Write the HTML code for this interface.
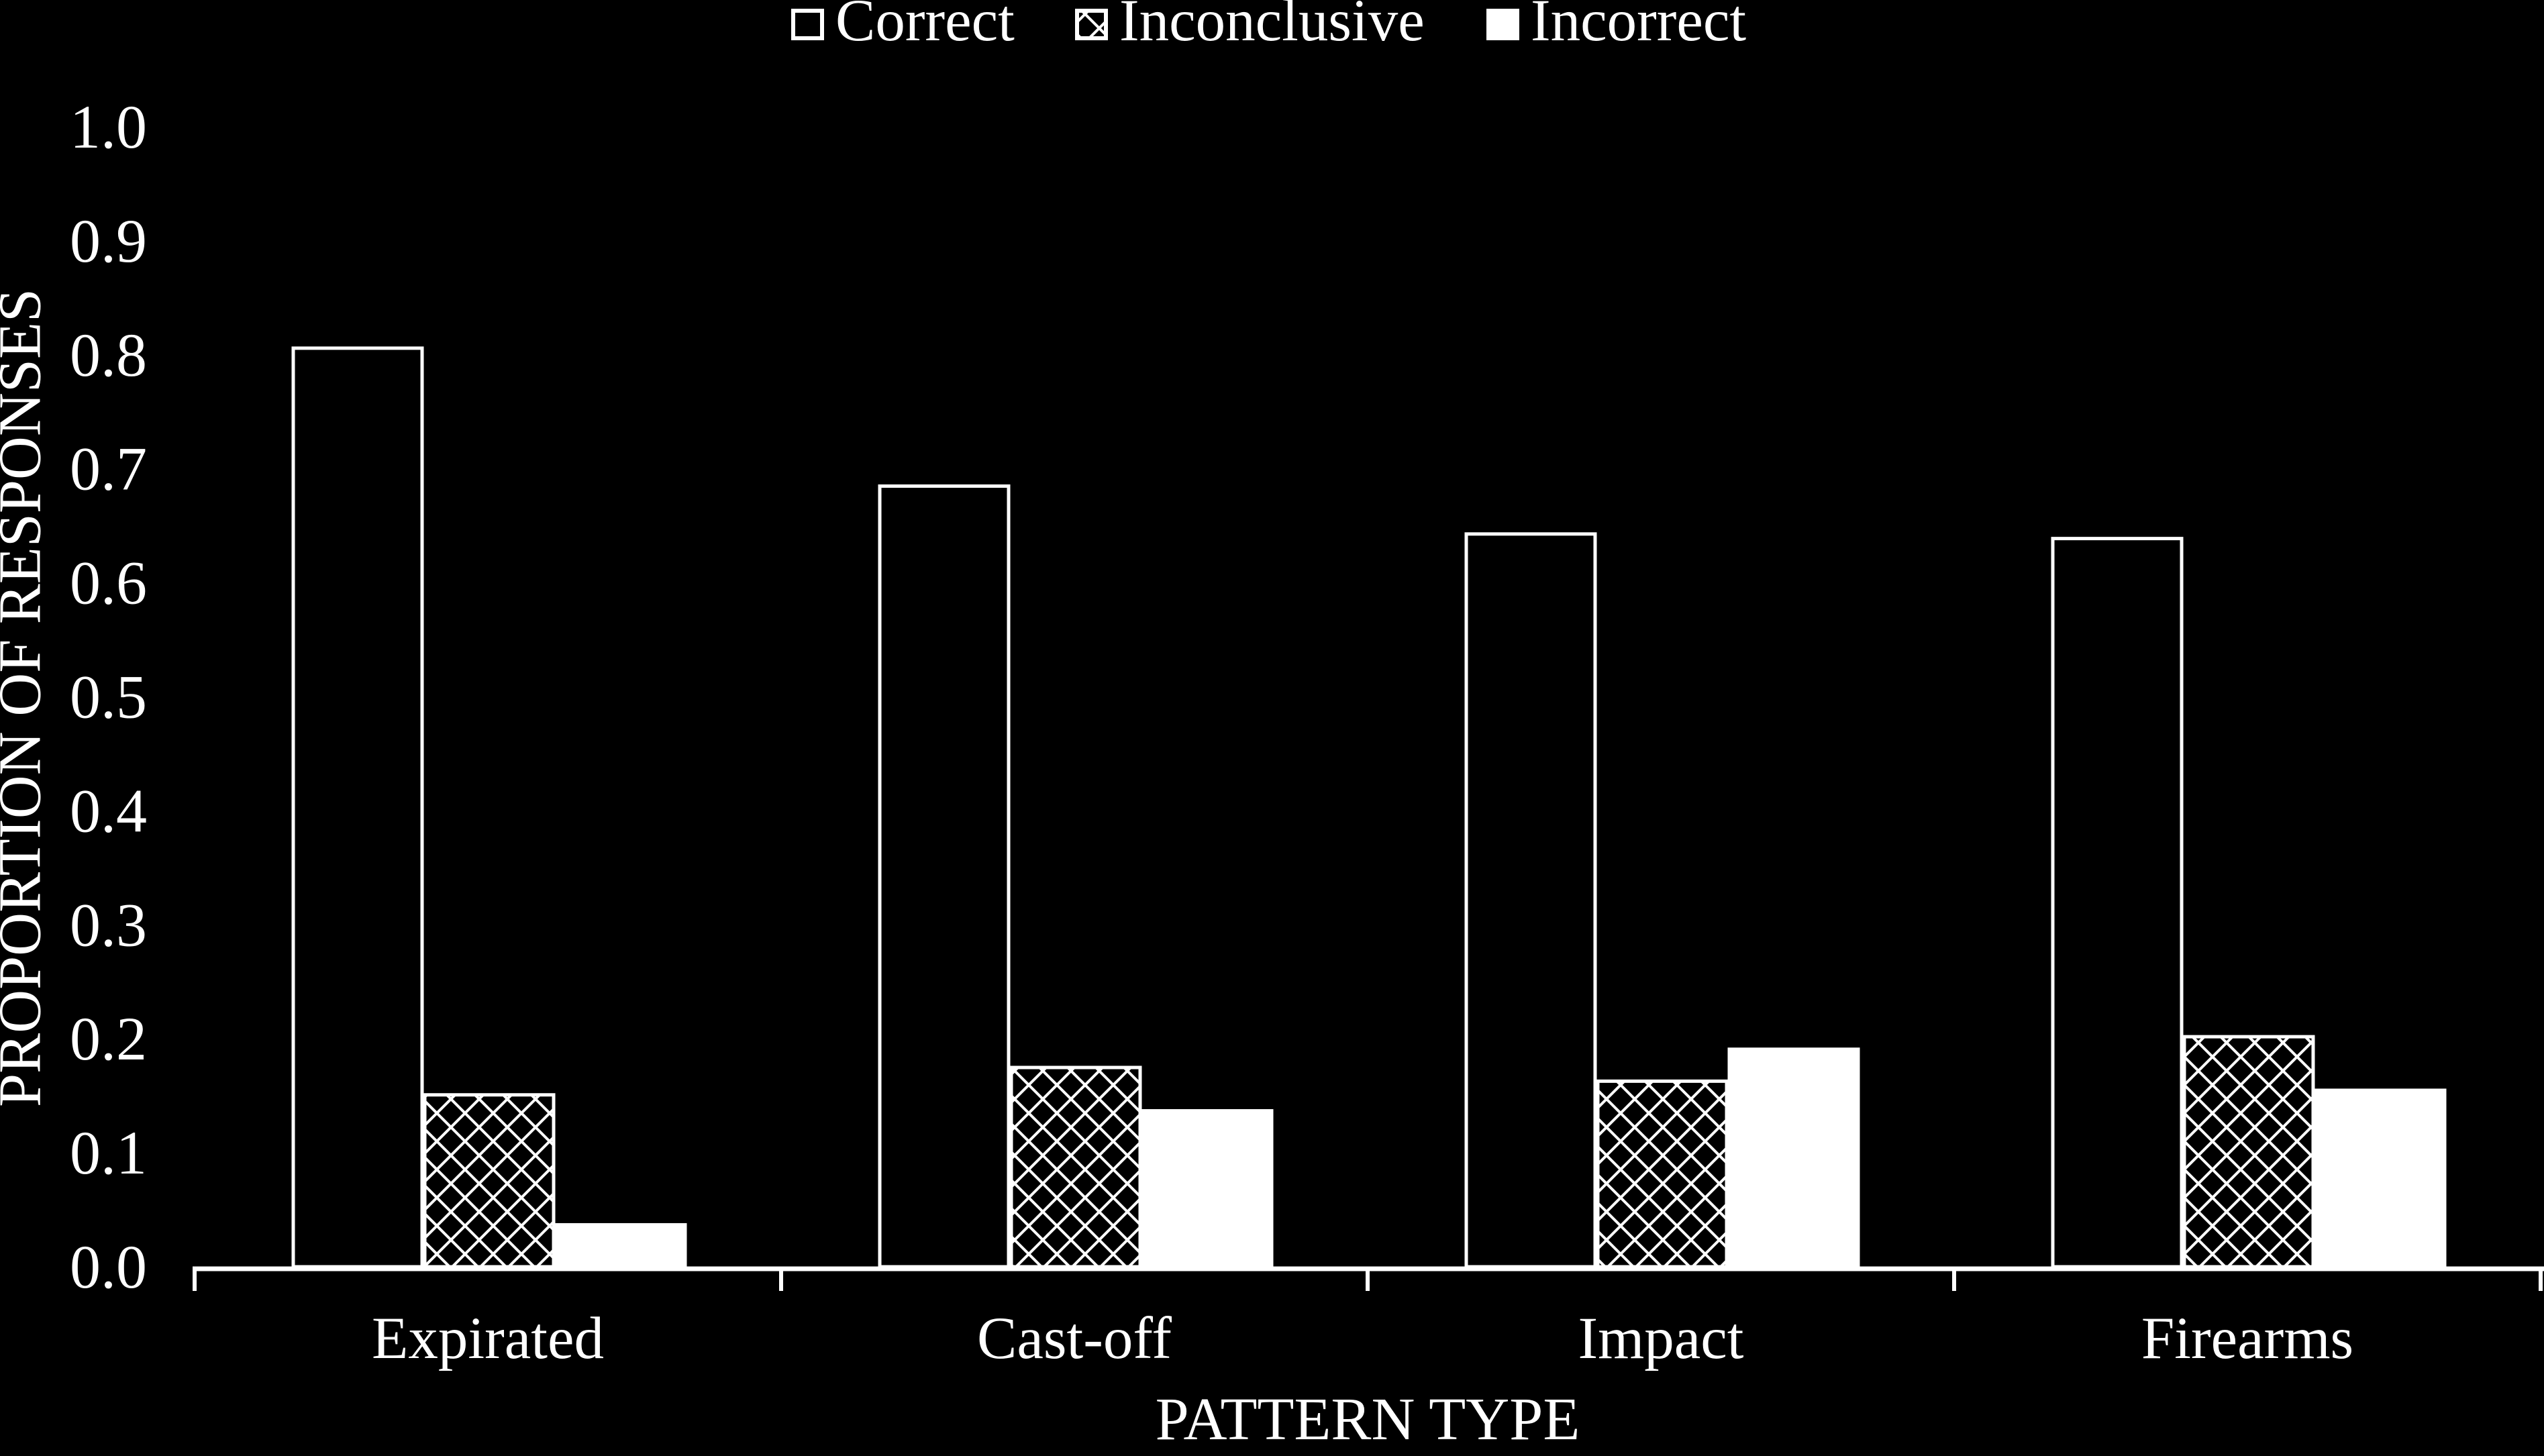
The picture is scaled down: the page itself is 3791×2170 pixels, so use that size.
<!DOCTYPE html>
<html><head><meta charset="utf-8"><style>
html,body{margin:0;padding:0;background:#000;}
svg{display:block;}
text{font-family:"Liberation Serif",serif;fill:#fff;}
</style></head><body>
<svg width="3791" height="2170" viewBox="0 0 3791 2170">
<defs>
<pattern id="hatch" width="42" height="42" patternUnits="userSpaceOnUse">
<path d="M0,0 L42,42 M42,0 L0,42 M-21,21 L0,42 M21,-21 L42,0 M21,63 L42,42" stroke="#fff" stroke-width="4" fill="none"/>
</pattern>
</defs>
<g id="legend"></g>
<g id="yaxis"></g>
<g id="bars"></g>
<g id="xaxis"></g>
<text x="39" y="1040" font-size="90" text-anchor="middle" transform="rotate(-90 39 1040)" dominant-baseline="middle">PROPORTION OF RESPONSES</text>
<text x="2038" y="2145" font-size="90" text-anchor="middle">PATTERN TYPE</text>
</svg>
<script>
const categories = ["Expirated","Cast-off","Impact","Firearms"];
const correct = [0.807,0.686,0.644,0.640];
const inconclusive = [0.152,0.176,0.164,0.203];
const incorrect = [0.038,0.138,0.192,0.156];
const yTicks = ["0.0","0.1","0.2","0.3","0.4","0.5","0.6","0.7","0.8","0.9","1.0"];
const seriesNames = ["Correct","Inconclusive","Incorrect"];

const NS="http://www.w3.org/2000/svg";
const y0=1888, yTop=189, xL=290, xR=3786;
const groupW=(xR-xL)/categories.length, barW=196, off=145;
function yScale(v){return y0-(y0-yTop)*v;}
function mk(tag,attrs,parent){const e=document.createElementNS(NS,tag);for(const k in attrs)e.setAttribute(k,attrs[k]);parent.appendChild(e);return e;}
const yax=document.getElementById('yaxis');
yTicks.forEach(t=>{
  const e=mk('text',{x:219,y:yScale(parseFloat(t))+31,'font-size':92,'text-anchor':'end'},yax);
  e.textContent=t;
  
  
});
const bars=document.getElementById('bars');
const series=[correct,inconclusive,incorrect];
const fills=["#000","url(#hatch)","#fff"];
categories.forEach((c,i)=>{
  series.forEach((s,j)=>{
    const x=xL+groupW*i+off+barW*j;
    const yt=yScale(s[i]);
    const r=mk('rect',{x:x+2,y:yt+2,width:barW-4,height:y0-yt-2,fill:fills[j],stroke:'#fff','stroke-width':5},bars);
    
    
  });
});
const xax=document.getElementById('xaxis');
const ln=mk('line',{x1:xL-3,y1:y0+3,x2:3791,y2:y0+3,stroke:'#fff','stroke-width':7},xax);


for(let i=0;i<=categories.length;i++){
  const x=xL+groupW*i;
  const t=mk('line',{x1:x,y1:y0,x2:x,y2:y0+36,stroke:'#fff','stroke-width':6},xax);
  
  
}
categories.forEach((c,i)=>{
  const e=mk('text',{x:xL+groupW*(i+0.5),y:2024,'font-size':89,'text-anchor':'middle'},xax);
  e.textContent=c;
  
  
});
const leg=document.getElementById('legend');
const legX=[1179,1602,2215];
seriesNames.forEach((n,j)=>{
  const r=mk('rect',{x:legX[j]+3,y:16,width:43,height:41,fill:fills[j],stroke:'#fff','stroke-width':6},leg);
  
  
  const t=mk('text',{x:legX[j]+66,y:60,'font-size':89},leg);
  t.textContent=n;
  
  
});
</script>
</body></html>
